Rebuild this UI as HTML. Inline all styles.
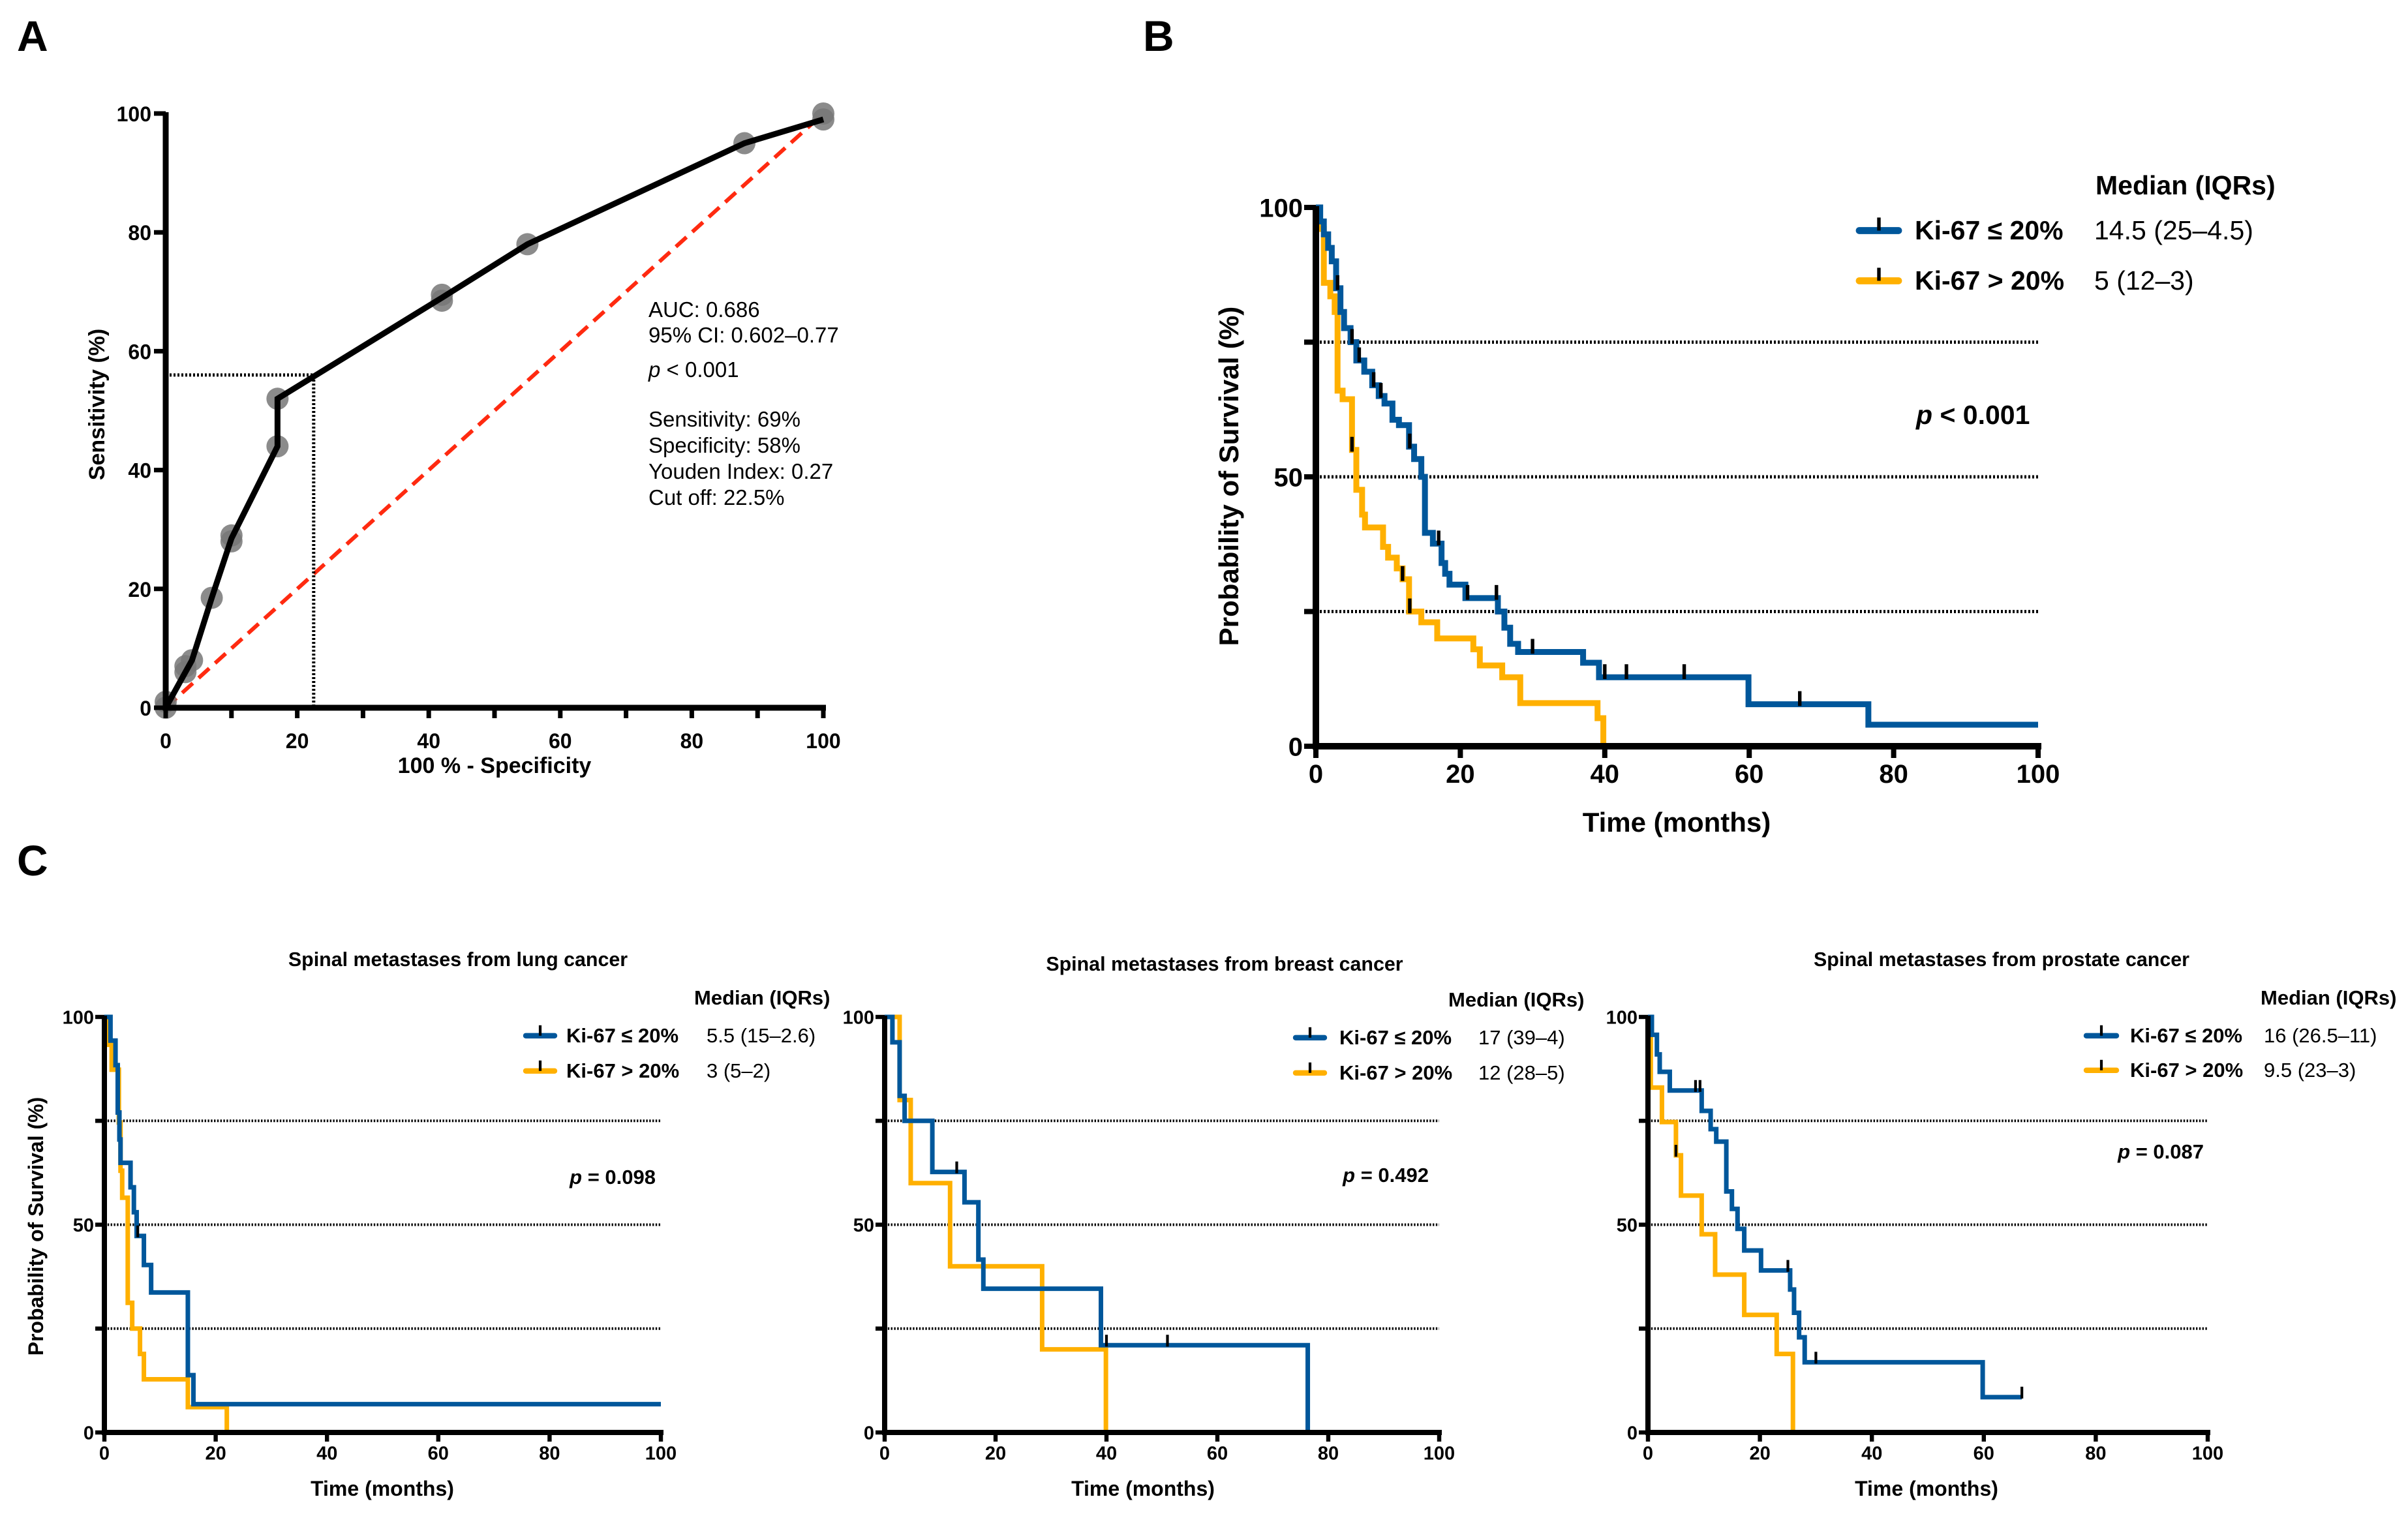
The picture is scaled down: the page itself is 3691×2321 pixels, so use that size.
<!DOCTYPE html>
<html><head><meta charset="utf-8">
<style>
html,body{margin:0;padding:0;background:#fff;}
svg{display:block;}
text{font-family:"Liberation Sans Narrow","Liberation Sans",sans-serif;fill:#000;}
.reg{font-family:"Liberation Sans",sans-serif;}
</style></head>
<body>
<svg id="fig" width="3691" height="2321" viewBox="0 0 3691 2321" xmlns="http://www.w3.org/2000/svg">
<text class="reg" x="26" y="78" font-size="66" font-weight="bold">A</text>
<text class="reg" x="1752" y="78" font-size="66" font-weight="bold">B</text>
<text class="reg" x="26" y="1342" font-size="66" font-weight="bold">C</text>
<g id="gA"></g>
<g id="gB"></g>
<g id="gC1"></g>
<g id="gC2"></g>
<g id="gC3"></g>
</svg>
<script>
// ---------- ROC data ----------
const rocFpr = [0,0,3,3,4,7,10,10,17,17,42,42,55,88,100,100];
const rocTpr = [0,1,6,7,8,18.5,28,29,44,52,68.5,69.5,78,95,99,100];
const rocLineFpr = [0,3,4,7,10,17,17,42,55,88,100];
const rocLineTpr = [0,6,8,18.5,28.5,44,52,69,78,95,99];
const rocCutX = [22.5];
const rocCutY = [56];
const rocTicks = [0,20,40,60,80,100];
// ---------- KM overall ----------
const bBlueT = [0,0.6,1.1,1.7,2.2,2.8,3.4,3.9,4.8,5.6,6.7,7.8,8.7,9.5,10.6,11.5,12.9,13.6,14.6,15.1,16.2,17.4,17.9,18.5,20.7,25.2,26.1,26.9,28,37,39.2,59.9,76.5];
const bBlueS = [100,97.4,95,92.5,90,85,80.6,77.6,75,71.6,69.5,67,65,63.6,60.6,59.6,55.6,53.3,50,39.6,37.6,34,32,30,27.5,25,22,19,17.5,15.5,12.8,7.8,4];
const bBlueEnd = [100];
const bBlueCens = [3,5,6,8,9,13,17,21,25,30,40,43,51,67];
const bOrT = [0,0.3,1.1,2,2.6,3,3.7,5,5.6,6.4,6.8,9.3,10,11.2,12,12.9,14.6,16.8,21.8,22.7,25.8,28.3,39,39.8];
const bOrS = [100,96,86,83.5,80.6,66,64.4,55,47.6,43,40.6,37,35,33,31,25,23,20,18,15,12.8,8,5.2,0];
const bOrEnd = [39.8];
const bOrCens = [5,12,13];
// ---------- KM lung ----------
const c1BlueT = [0,1.1,2,2.4,2.7,2.9,4.7,5.3,5.8,7.1,8.4,15,16];
const c1BlueS = [100,94.3,88.4,77,70.5,64.9,59,53,47.3,40.3,33.7,13.8,6.8];
const c1BlueEnd = [100];
const c1BlueCens = [6];
const c1OrT = [0,0.4,1.3,2.6,2.9,3.2,4.2,5,6.4,7.1,15,22];
const c1OrS = [100,93.3,87.3,74.6,63,56.5,31.2,25,18.9,12.8,6.1,0];
const c1OrEnd = [22];
const c1OrCens = [];
// ---------- KM breast ----------
const c2BlueT = [0,1.4,2.7,3.6,8.6,14.4,16.9,17.8,39,76.3];
const c2BlueS = [100,93.9,81,75,62.7,55.4,41.6,34.6,21,0];
const c2BlueEnd = [76.3];
const c2BlueCens = [13,40,51];
const c2OrT = [0,2.7,4.7,11.8,28.4,39.9];
const c2OrS = [100,80,60,40,20,0];
const c2OrEnd = [39.9];
const c2OrCens = [];
// ---------- KM prostate ----------
const c3BlueT = [0,0.7,1.6,2.1,3.9,9.6,11.2,12.2,14,15,16,17.2,20.2,25.4,26.1,27,28,59.8];
const c3BlueS = [100,95.7,91,86.8,82.3,77.4,73,70,58,53.8,49,43.8,39,34.4,28.8,22.9,16.9,8.5];
const c3BlueEnd = [66.8];
const c3BlueCens = [8.5,9.3,25,30,66.8];
const c3OrT = [0,0.5,2.5,5,5.9,9.6,12,17.2,23,25.9];
const c3OrS = [100,83,74.7,66.7,57,47.7,38,28.3,18.9,0];
const c3OrEnd = [25.9];
const c3OrCens = [5];
const yTicksKM = [0,25,50,75,100];
const yLabelsKM = ["0","","50","","100"];
const xTicksKM = [0,20,40,60,80,100];

const NS="http://www.w3.org/2000/svg";
const BLUE="#00579b", ORANGE="#ffb000";
function mk(parent,tag,attrs,txt){const e=document.createElementNS(NS,tag);for(const k in attrs)e.setAttribute(k,attrs[k]);if(txt!==undefined)e.textContent=txt;parent.appendChild(e);return e;}
function axis(x0,x1,yTop,yBot){return {sx:v=>x0+(x1-x0)*v/100,sy:v=>yBot-(yBot-yTop)*v/100,x0,x1,yTop,yBot};}

// ---------- Panel A ----------
(function(){
 const g=document.getElementById('gA');
 const a=axis(254,1262,174,1085);
 let e=mk(g,'line',{x1:a.sx(0),y1:a.sy(0),x2:a.sx(100),y2:a.sy(100),stroke:'#ff2a10','stroke-width':6,'stroke-dasharray':'22 12'});
 
 e=mk(g,'polyline',{points:`${a.sx(0)},${a.sy(rocCutY[0])} ${a.sx(rocCutX[0])},${a.sy(rocCutY[0])} ${a.sx(rocCutX[0])},${a.sy(0)}`,fill:'none',stroke:'#000','stroke-width':5,'stroke-dasharray':'3 3'});
 
 for(let i=0;i<rocFpr.length;i++){
  e=mk(g,'circle',{cx:a.sx(rocFpr[i]),cy:a.sy(rocTpr[i]),r:17,fill:'#777','fill-opacity':0.85});
  
 }
 e=mk(g,'polyline',{points:rocLineFpr.map((v,i)=>a.sx(v)+','+a.sy(rocLineTpr[i])).join(' '),fill:'none',stroke:'#000','stroke-width':9,'stroke-linejoin':'miter'});
 
 e=mk(g,'path',{d:`M${a.sx(0)},${a.sy(100)-2} V${a.sy(0)} H${a.sx(100)+4}`,fill:'none',stroke:'#000','stroke-width':9});
 
 for(let v=0;v<=100;v+=10){mk(g,'line',{x1:a.sx(v),y1:a.sy(0),x2:a.sx(v),y2:a.sy(0)+16,stroke:'#000','stroke-width':7});}
 rocTicks.forEach(v=>{
  mk(g,'line',{x1:a.sx(0)-18,y1:a.sy(v),x2:a.sx(0),y2:a.sy(v),stroke:'#000','stroke-width':7});
  e=mk(g,'text',{x:a.sx(v),y:a.sy(0)+62,'font-size':32,'font-weight':'bold','text-anchor':'middle'},String(v));
  
  e=mk(g,'text',{x:a.sx(0)-22,y:a.sy(v)+12,'font-size':32,'font-weight':'bold','text-anchor':'end'},String(v));
  
 });
 e=mk(g,'text',{x:758,y:1185,'font-size':34,'font-weight':'bold','text-anchor':'middle'},'100 % - Specificity');
 
 e=mk(g,'text',{x:0,y:0,'font-size':34,'font-weight':'bold','text-anchor':'middle',transform:'translate(160,620) rotate(-90)'},'Sensitivity (%)');
 
 const ann=[['AUC: 0.686',486],['95% CI: 0.602–0.77',525],['p < 0.001',578],['Sensitivity: 69%',654],['Specificity: 58%',694],['Youden Index: 0.27',734],['Cut off: 22.5%',774]];
 ann.forEach(([t,y])=>{
  e=mk(g,'text',{x:994,y:y,'font-size':33,class:'reg'});
  if(t.startsWith('p ')){mk(e,'tspan',{'font-style':'italic'},'p');mk(e,'tspan',{},' < 0.001');}
  else e.textContent=t;
  
 });
})();

function km(g,a,T,S,end,color,cens,w,tickLen,name){
 let d=`M${a.sx(T[0])},${a.sy(S[0])}`;
 for(let i=1;i<T.length;i++){d+=` H${a.sx(T[i])} V${a.sy(S[i])}`;}
 d+=` H${a.sx(end[0])}`;
 const e=mk(g,'path',{d:d,fill:'none',stroke:color,'stroke-width':w,'stroke-linejoin':'miter'});
 
 
 cens.forEach(t=>{
  let s=S[0];for(let i=0;i<T.length;i++){if(T[i]<=t)s=S[i];}
  const c=mk(g,'line',{x1:a.sx(t),y1:a.sy(s)-tickLen,x2:a.sx(t),y2:a.sy(s)+w*0.3,stroke:'#000','stroke-width':w*0.6});
  
  
 });
}
function kmPanel(cfg){
 const g=document.getElementById(cfg.id);
 const a=axis(cfg.x0,cfg.x1,cfg.yTop,cfg.yBot);
 let e;
 [25,50,75].forEach(v=>{
  e=mk(g,'line',{x1:a.sx(0),y1:a.sy(v),x2:a.sx(100),y2:a.sy(v),stroke:'#000','stroke-width':cfg.dw,'stroke-dasharray':`${cfg.dw*0.6} ${cfg.dw*0.6}`});
  
 });
 km(g,a,cfg.oT,cfg.oS,cfg.oEnd,ORANGE,cfg.oC,cfg.lw,cfg.tl,'series-ki67-high');
 km(g,a,cfg.bT,cfg.bS,cfg.bEnd,BLUE,cfg.bC,cfg.lw,cfg.tl,'series-ki67-low');
 e=mk(g,'path',{d:`M${a.sx(0)},${a.sy(100)-2} V${a.sy(0)} H${a.sx(100)+cfg.aw/2}`,fill:'none',stroke:'#000','stroke-width':cfg.aw});
 
 xTicksKM.forEach(v=>{
  mk(g,'line',{x1:a.sx(v),y1:a.sy(0),x2:a.sx(v),y2:a.sy(0)+cfg.tk,stroke:'#000','stroke-width':cfg.aw*0.8});
  e=mk(g,'text',{x:a.sx(v),y:a.sy(0)+cfg.tk+cfg.fs*0.95,'font-size':cfg.fs,'font-weight':'bold','text-anchor':'middle'},String(v));
  
 });
 yTicksKM.forEach((v,i)=>{
  mk(g,'line',{x1:a.sx(0)-cfg.tk,y1:a.sy(v),x2:a.sx(0),y2:a.sy(v),stroke:'#000','stroke-width':cfg.aw*0.8});
  if(yLabelsKM[i]){e=mk(g,'text',{x:a.sx(0)-cfg.tk-2,y:a.sy(v)+cfg.fs*0.36,'font-size':cfg.fs,'font-weight':'bold','text-anchor':'end'},yLabelsKM[i]);
  }
 });
 e=mk(g,'text',{x:cfg.xtX,y:cfg.xtY,'font-size':cfg.tf,'font-weight':'bold','text-anchor':'middle'},'Time (months)');
 
 if(cfg.ytX){e=mk(g,'text',{x:0,y:0,'font-size':cfg.tf,'font-weight':'bold','text-anchor':'middle',class:'reg',transform:`translate(${cfg.ytX},${cfg.ytY}) rotate(-90)`},'Probability of Survival (%)');
 }
 if(cfg.title){e=mk(g,'text',{x:cfg.titleX,y:cfg.titleY,'font-size':cfg.tf*0.95,'font-weight':'bold','text-anchor':'middle'},cfg.title);
 }
 e=mk(g,'text',{x:cfg.medX,y:cfg.medY,'font-size':cfg.lf,'font-weight':'bold'},'Median (IQRs)');
 
 [[BLUE,'Ki-67 ≤ 20%',cfg.bMed,cfg.r1],[ORANGE,'Ki-67 > 20%',cfg.oMed,cfg.r2]].forEach(([c,l,m,y])=>{
  const lg=mk(g,'g',{});
  
  mk(lg,'line',{x1:cfg.sx0,y1:y-cfg.lf*0.33,x2:cfg.sx1,y2:y-cfg.lf*0.33,stroke:c,'stroke-width':cfg.lw*1.2,'stroke-linecap':'round'});
  const mx=(cfg.sx0+cfg.sx1)/2;
  mk(lg,'line',{x1:mx,y1:y-cfg.lf*0.33-cfg.tl,x2:mx,y2:y-cfg.lf*0.33,stroke:'#000','stroke-width':cfg.lw*0.6});
  mk(lg,'text',{x:cfg.labX,y:y,'font-size':cfg.lf,'font-weight':'bold'},l);
  mk(lg,'text',{x:cfg.valX,y:y,'font-size':cfg.lf},m);
 });
 e=mk(g,'text',{x:cfg.pX,y:cfg.pY,'font-size':cfg.lf,'font-weight':'bold','text-anchor':cfg.pAnchor||'end'});
 mk(e,'tspan',{'font-style':'italic'},'p');mk(e,'tspan',{},cfg.p);
 
}
kmPanel({id:'gB',x0:2017,x1:3124,yTop:318,yBot:1144,dw:5,lw:9,tl:20,aw:10,tk:18,fs:40,tf:42,lf:41,
 oT:bOrT,oS:bOrS,oEnd:bOrEnd,oC:bOrCens,bT:bBlueT,bS:bBlueS,bEnd:bBlueEnd,bC:bBlueCens,
 xtX:2570,xtY:1275,ytX:1898,ytY:730,medX:3212,medY:298,r1:367,r2:444,sx0:2850,sx1:2910,labX:2935,valX:3210,
 bMed:'14.5 (25–4.5)',oMed:'5 (12–3)',pX:2937,pY:650,p:' < 0.001',pAnchor:'start'});
const cCommon={yTop:1559,yBot:2196,dw:4,lw:7,tl:16,aw:8,tk:14,fs:29,tf:32,lf:31};
kmPanel(Object.assign({},cCommon,{id:'gC1',x0:160,x1:1013,
 oT:c1OrT,oS:c1OrS,oEnd:c1OrEnd,oC:c1OrCens,bT:c1BlueT,bS:c1BlueS,bEnd:c1BlueEnd,bC:c1BlueCens,
 xtX:586,xtY:2293,ytX:66,ytY:1880,title:'Spinal metastases from lung cancer',titleX:702,titleY:1481,
 medX:1064,medY:1540,r1:1598,r2:1652,sx0:806,sx1:850,labX:868,valX:1083,bMed:'5.5 (15–2.6)',oMed:'3 (5–2)',pX:1005,pY:1815,p:' = 0.098'}));
kmPanel(Object.assign({},cCommon,{id:'gC2',x0:1356,x1:2206,
 oT:c2OrT,oS:c2OrS,oEnd:c2OrEnd,oC:c2OrCens,bT:c2BlueT,bS:c2BlueS,bEnd:c2BlueEnd,bC:c2BlueCens,
 xtX:1752,xtY:2293,title:'Spinal metastases from breast cancer',titleX:1877,titleY:1488,
 medX:2220,medY:1543,r1:1601,r2:1655,sx0:1986,sx1:2030,labX:2053,valX:2266,bMed:'17 (39–4)',oMed:'12 (28–5)',pX:2190,pY:1812,p:' = 0.492'}));
kmPanel(Object.assign({},cCommon,{id:'gC3',x0:2526,x1:3384,
 oT:c3OrT,oS:c3OrS,oEnd:c3OrEnd,oC:c3OrCens,bT:c3BlueT,bS:c3BlueS,bEnd:c3BlueEnd,bC:c3BlueCens,
 xtX:2953,xtY:2293,title:'Spinal metastases from prostate cancer',titleX:3068,titleY:1481,
 medX:3465,medY:1540,r1:1598,r2:1651,sx0:3198,sx1:3244,labX:3265,valX:3470,bMed:'16 (26.5–11)',oMed:'9.5 (23–3)',pX:3378,pY:1776,p:' = 0.087'}));
</script>
</body></html>
